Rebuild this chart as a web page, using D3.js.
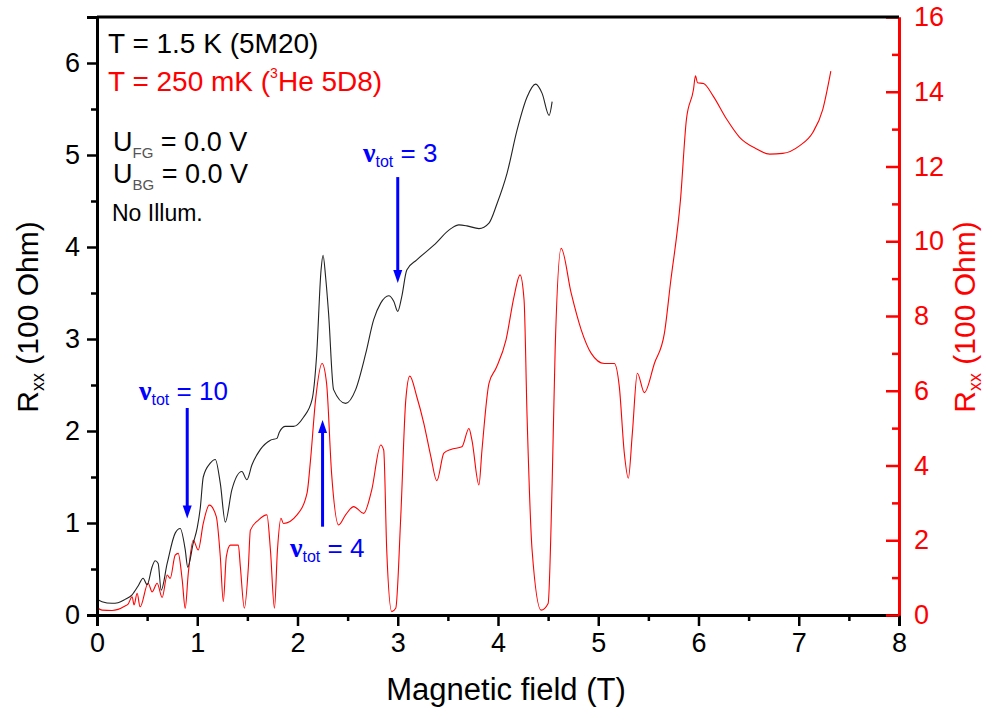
<!DOCTYPE html>
<html>
<head>
<meta charset="utf-8">
<script src="https://cdn.jsdelivr.net/npm/d3@7"></script>
<style>
  body { margin: 0; background: #fff; }
  svg text { font-family: "Liberation Sans", Arial, sans-serif; }
</style>
</head>
<body>
<div id="chart"></div>
<script>
// Rxx vs magnetic field, two measurements on twin y axes

// 1.5 K curve (left axis, 100 Ohm)
const field15K = [0, 0.05, 0.15, 0.21, 0.28, 0.35, 0.41, 0.46, 0.50, 0.55, 0.58, 0.61, 0.64, 0.70, 0.78, 0.83, 0.88, 0.905, 0.96, 1.00, 1.03, 1.06, 1.13, 1.18, 1.23, 1.28, 1.345, 1.445, 1.495, 1.545, 1.63, 1.73, 1.795, 1.82, 1.88, 1.96, 2.06, 2.145, 2.19, 2.235, 2.255, 2.28, 2.31, 2.36, 2.48, 2.58, 2.68, 2.76, 2.83, 2.91, 2.96, 3.00, 3.04, 3.09, 3.19, 3.36, 3.53, 3.61, 3.69, 3.81, 3.91, 3.99, 4.09, 4.19, 4.29, 4.375, 4.44, 4.51, 4.54];
const rxx15K = [0.17, 0.145, 0.127, 0.134, 0.17, 0.22, 0.315, 0.40, 0.33, 0.525, 0.59, 0.56, 0.27, 0.56, 0.89, 0.94, 0.71, 0.52, 0.78, 0.95, 1.16, 1.50, 1.65, 1.69, 1.43, 1.01, 1.36, 1.56, 1.47, 1.63, 1.80, 1.90, 1.92, 1.99, 2.05, 2.05, 2.15, 2.34, 2.81, 3.75, 3.91, 3.68, 3.28, 2.45, 2.30, 2.45, 2.84, 3.21, 3.39, 3.47, 3.41, 3.30, 3.46, 3.75, 3.86, 4.02, 4.20, 4.24, 4.23, 4.20, 4.26, 4.47, 4.80, 5.27, 5.63, 5.77, 5.67, 5.43, 5.58];

// 250 mK curve (right axis, 100 Ohm)
const field250mK = [0, 0.05, 0.15, 0.21, 0.28, 0.31, 0.35, 0.37, 0.40, 0.43, 0.51, 0.55, 0.60, 0.65, 0.70, 0.73, 0.78, 0.81, 0.85, 0.88, 0.91, 0.96, 1.01, 1.06, 1.12, 1.19, 1.23, 1.26, 1.29, 1.33, 1.41, 1.43, 1.47, 1.51, 1.53, 1.61, 1.695, 1.73, 1.77, 1.80, 1.835, 1.86, 1.995, 2.095, 2.13, 2.18, 2.245, 2.29, 2.34, 2.41, 2.48, 2.56, 2.66, 2.74, 2.83, 2.86, 2.89, 2.94, 2.98, 3.03, 3.08, 3.12, 3.19, 3.26, 3.33, 3.39, 3.46, 3.53, 3.64, 3.71, 3.74, 3.81, 3.84, 3.91, 3.98, 4.08, 4.16, 4.22, 4.26, 4.29, 4.34, 4.43, 4.50, 4.54, 4.57, 4.63, 4.73, 4.83, 4.93, 5.06, 5.16, 5.21, 5.26, 5.30, 5.34, 5.39, 5.46, 5.56, 5.66, 5.72, 5.82, 5.88, 5.95, 5.97, 5.99, 6.05, 6.145, 6.28, 6.41, 6.58, 6.71, 6.84, 7.01, 7.14, 7.24, 7.32];
const rxx250mK = [0.20, 0.13, 0.12, 0.15, 0.24, 0.29, 0.49, 0.27, 0.58, 0.22, 0.85, 0.62, 0.85, 0.47, 1.07, 0.98, 1.60, 1.65, 0.94, 0.18, 1.10, 2.00, 1.74, 2.45, 2.94, 2.63, 1.56, 0.36, 1.56, 1.87, 1.87, 1.29, 0.18, 1.29, 2.27, 2.54, 2.68, 1.74, 0.18, 1.74, 2.59, 2.45, 2.68, 3.26, 4.15, 5.75, 6.73, 6.20, 3.79, 2.41, 2.68, 2.90, 2.72, 3.34, 4.55, 4.41, 1.74, 0.09, 0.18, 2.63, 5.75, 6.39, 5.84, 5.13, 4.24, 3.59, 4.33, 4.43, 4.50, 4.99, 4.68, 3.48, 4.41, 6.20, 6.60, 7.36, 8.52, 9.10, 8.43, 5.31, 1.74, 0.13, 0.31, 3.52, 7.09, 9.81, 8.61, 7.63, 7.00, 6.73, 6.73, 6.11, 4.33, 3.66, 4.86, 6.47, 5.95, 6.73, 7.54, 8.87, 11.10, 13.27, 14.06, 14.43, 14.24, 14.22, 13.89, 13.27, 12.78, 12.47, 12.33, 12.35, 12.56, 12.91, 13.53, 14.55];

// filling factor arrows: field, y start, y end (left axis units)
const nuLabels = ["10", "4", "3"];
const nuField = [0.9, 2.25, 3.0];
const nuFrom = [2.25, 0.96, 4.76];
const nuTo = [1.05, 2.12, 3.61];

const xTicks = [0, 1, 2, 3, 4, 5, 6, 7, 8];
const yLeftTicks = [0, 1, 2, 3, 4, 5, 6];
const yRightTicks = [0, 2, 4, 6, 8, 10, 12, 14, 16];

const W = 990, H = 711;
const m = { t: 17, r: 91, b: 96, l: 97 };

const svg = d3.select("#chart").append("svg")
    .attr("width", W)
    .attr("height", H);

const x = d3.scaleLinear().domain([0, 8]).range([m.l, W - m.r]);
const yL = d3.scaleLinear().domain([0, 6.5]).range([H - m.b, m.t]);
const yR = d3.scaleLinear().domain([0, 16]).range([H - m.b, m.t]);

const red = "#ff0000";
const blue = "#0000ff";

// curves
const lineL = d3.line().x(d => x(d[0])).y(d => yL(d[1])).curve(d3.curveMonotoneX);
const lineR = d3.line().x(d => x(d[0])).y(d => yR(d[1])).curve(d3.curveMonotoneX);

svg.append("path")
    .datum(field250mK.map((f, i) => [f, rxx250mK[i]]))
    .attr("d", lineR)
    .attr("fill", "none")
    .attr("stroke", red)
    .attr("stroke-width", 1.1);

svg.append("path")
    .datum(field15K.map((f, i) => [f, rxx15K[i]]))
    .attr("d", lineL)
    .attr("fill", "none")
    .attr("stroke", "#222")
    .attr("stroke-width", 1.1);

// axes
const fs = 27;

svg.append("g")
    .attr("transform", "translate(0," + (H - m.b) + ")")
    .call(d3.axisBottom(x).tickValues(xTicks).tickFormat(d3.format("d")).tickSize(11).tickPadding(7));
svg.append("g")
    .attr("transform", "translate(0," + (H - m.b) + ")")
    .call(d3.axisBottom(x).tickValues(d3.range(0.5, 8, 1)).tickFormat("").tickSize(6));

svg.append("g")
    .attr("transform", "translate(" + m.l + ",0)")
    .call(d3.axisLeft(yL).tickValues(yLeftTicks).tickFormat(d3.format("d")).tickSize(10).tickPadding(7));
svg.append("g")
    .attr("transform", "translate(" + m.l + ",0)")
    .call(d3.axisLeft(yL).tickValues(d3.range(0.5, 6.5, 1)).tickFormat("").tickSize(6));

svg.append("g")
    .attr("class", "right")
    .attr("transform", "translate(" + (W - m.r) + ",0)")
    .call(d3.axisRight(yR).tickValues(yRightTicks).tickSizeInner(-13).tickSizeOuter(0));
svg.append("g")
    .attr("class", "right")
    .attr("transform", "translate(" + (W - m.r) + ",0)")
    .call(d3.axisRight(yR).tickValues(d3.range(1, 16, 2)).tickFormat("").tickSizeInner(-7).tickSizeOuter(0));

svg.selectAll(".tick text").attr("font-size", fs).attr("font-family", "Liberation Sans, Arial, sans-serif").attr("fill", "#000");
svg.selectAll(".tick line").attr("stroke-width", 2.5);
svg.selectAll(".domain").attr("stroke-width", 3);
svg.selectAll(".right .domain, .right .tick line").attr("stroke", red);
svg.selectAll(".right .tick text").attr("fill", red).attr("x", 15);

// top frame line
svg.append("line")
    .attr("x1", m.l).attr("x2", W - m.r)
    .attr("y1", m.t).attr("y2", m.t)
    .attr("stroke", "#000").attr("stroke-width", 3);

// axis titles
svg.append("text")
    .attr("x", (m.l + W - m.r) / 2 + 8)
    .attr("y", 700)
    .attr("text-anchor", "middle")
    .attr("font-size", 31)
    .text("Magnetic field (T)");

function rxxTitle(xPos, color) {
    const t = svg.append("text")
        .attr("transform", "translate(" + xPos + "," + ((m.t + H - m.b) / 2 + 1) + ") rotate(-90)")
        .attr("text-anchor", "middle")
        .attr("font-size", 30)
        .attr("fill", color);
    t.append("tspan").text("R");
    t.append("tspan").attr("font-size", 18).attr("dy", 6).text("xx");
    t.append("tspan").attr("dy", -6).text(" (100 Ohm)");
}
rxxTitle(38, "#000");
rxxTitle(975, red);

// legend block
const fl = 28;
svg.append("text").attr("x", 108).attr("y", 53).attr("font-size", fl).text("T = 1.5 K (5M20)");

const t2 = svg.append("text").attr("x", 108).attr("y", 91).attr("font-size", fl).attr("fill", red);
t2.append("tspan").text("T = 250 mK (");
t2.append("tspan").attr("font-size", 14).attr("dy", -13).text("3");
t2.append("tspan").attr("dy", 13).text("He 5D8)");

[["FG", 151], ["BG", 183]].forEach(function (r) {
    const t = svg.append("text").attr("x", 113).attr("y", r[1]).attr("font-size", 27);
    t.append("tspan").text("U");
    t.append("tspan").attr("font-size", 15).attr("fill", "#555").attr("dy", 7).text(r[0]);
    t.append("tspan").attr("dy", -7).text(" = 0.0 V");
});

svg.append("text").attr("x", 112).attr("y", 221).attr("font-size", 23).text("No Illum.");

// nu_tot arrows + labels
const labelPos = [[139, 400], [290, 557], [363, 162]];

nuLabels.forEach(function (lab, i) {
    const ax = x(nuField[i]);
    const y0 = yL(nuFrom[i]);
    const y1 = yL(nuTo[i]);
    const dir = y1 > y0 ? 1 : -1;
    svg.append("line")
        .attr("x1", ax).attr("x2", ax)
        .attr("y1", y0).attr("y2", y1 - dir * 10)
        .attr("stroke", blue).attr("stroke-width", 3);
    svg.append("path")
        .attr("d", "M" + (ax - 4.5) + "," + (y1 - dir * 13) + "L" + (ax + 4.5) + "," + (y1 - dir * 13) + "L" + ax + "," + y1 + "Z")
        .attr("fill", blue);

    const t = svg.append("text")
        .attr("x", labelPos[i][0]).attr("y", labelPos[i][1])
        .attr("font-size", 26).attr("fill", blue);
    t.append("tspan").attr("font-family", "Liberation Serif, serif").attr("font-weight", "bold").attr("font-size", 28).text("ν");
    t.append("tspan").attr("font-size", 16).attr("dy", 5).text("tot");
    t.append("tspan").attr("dy", -5).text(" = " + lab);
});
</script>
</body>
</html>
